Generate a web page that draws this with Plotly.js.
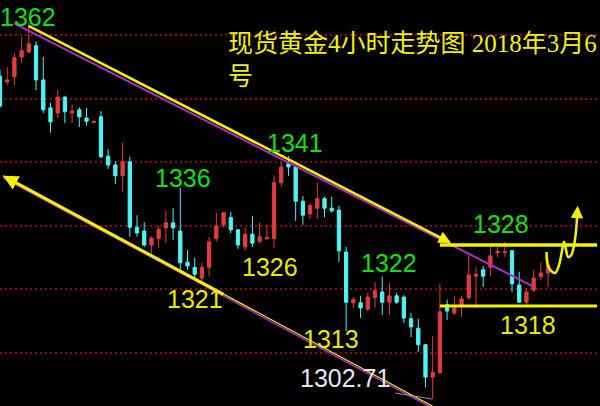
<!DOCTYPE html>
<html>
<head>
<meta charset="utf-8">
<script src="https://cdn.plot.ly/plotly-3.0.1.min.js"></script>
<style>html,body{margin:0;padding:0;background:#000;}#chart{width:600px;height:406px;}</style>
</head>
<body>
<div id="chart"></div>
<script>
// ---- candle data (4h bars, index 0..76) ----
const openP = [1353.6,1352.7,1353.5,1356.6,1357.4,1358.4,1353.0,1348.6,1347.8,1350.3,1347.8,1348.3,1347.0,1346.3,1347.2,1341.0,1339.6,1337.9,1340.1,1329.8,1329.2,1327.0,1328.0,1329.7,1330.5,1329.2,1324.3,1323.5,1321.8,1323.5,1328.0,1330.2,1331.3,1329.4,1326.7,1328.7,1327.6,1328.0,1328.0,1336.8,1339.8,1339.3,1333.9,1331.9,1332.8,1334.3,1332.8,1332.5,1325.9,1317.9,1317.9,1316.9,1318.7,1319.6,1318.0,1319.0,1318.8,1315.4,1313.9,1311.3,1306.2,1306.9,1317.6,1316.3,1317.4,1318.7,1322.1,1323.1,1323.5,1325.8,1325.8,1326.1,1320.7,1318.0,1319.9,1322.0,1322.6];
const highP = [1354.6,1355.0,1357.2,1359.8,1362.0,1359.1,1356.6,1349.4,1351.4,1350.5,1349.2,1348.7,1348.6,1346.6,1348.1,1342.1,1340.2,1343.1,1340.9,1331.7,1330.6,1328.4,1330.0,1332.4,1332.8,1336.0,1326.2,1325.0,1324.2,1328.3,1332.1,1332.2,1332.2,1329.5,1329.7,1331.6,1330.5,1330.2,1338.0,1340.1,1341.0,1339.5,1334.7,1333.6,1336.8,1334.6,1334.6,1333.2,1326.7,1318.8,1319.0,1319.5,1321.2,1322.0,1321.0,1319.5,1319.1,1316.3,1315.4,1311.4,1312.7,1320.9,1318.4,1319.0,1319.0,1325.4,1323.5,1323.7,1326.7,1326.7,1327.5,1326.2,1322.8,1320.2,1323.1,1324.2,1325.0];
const lowP = [1348.6,1352.2,1352.2,1355.7,1357.2,1351.4,1347.8,1344.7,1347.0,1346.2,1346.2,1345.6,1345.8,1346.2,1340.7,1339.0,1336.6,1335.4,1328.3,1328.3,1326.7,1325.4,1326.5,1327.3,1327.8,1322.8,1323.1,1321.8,1321.0,1322.0,1327.6,1329.8,1328.9,1326.4,1326.2,1326.7,1327.3,1327.9,1326.5,1336.1,1337.9,1330.8,1330.2,1331.1,1331.1,1331.4,1332.1,1324.3,1313.4,1317.1,1315.5,1316.6,1317.1,1316.0,1316.0,1317.7,1314.7,1312.5,1310.2,1304.6,1302.71,1306.7,1315.2,1316.0,1315.7,1318.4,1317.1,1320.4,1322.1,1325.1,1325.1,1319.6,1317.9,1317.6,1319.6,1321.5,1320.4];
const closeP = [1348.9,1353.0,1356.5,1357.6,1358.7,1353.0,1348.3,1346.4,1350.3,1348.0,1348.1,1347.2,1346.5,1346.5,1340.9,1339.6,1337.9,1340.1,1329.8,1328.9,1327.0,1328.1,1329.5,1330.5,1329.7,1324.2,1323.7,1322.4,1323.5,1327.5,1330.0,1332.1,1329.4,1327.0,1328.7,1327.3,1328.3,1328.2,1336.8,1339.3,1339.3,1333.9,1331.7,1333.2,1334.3,1332.8,1332.4,1326.1,1318.0,1318.4,1317.1,1318.8,1319.8,1318.0,1319.0,1318.0,1315.5,1314.1,1311.3,1306.2,1306.9,1316.5,1316.6,1317.1,1318.5,1322.3,1322.4,1322.1,1325.3,1326.0,1326.0,1320.9,1318.0,1319.6,1321.8,1322.6,1323.9];
const barIndex = openP.map((_, i) => i);

// ---- drawn analysis lines (bar index, price) ----
const upperTrendX = [3.74, 62.55];
const upperTrendY = [1361.65, 1327.32];
const purpleUpperX = [1.94, 73.9];
const purpleUpperY = [1361.9, 1320.5];
const lowerTrendX = [0.42, 60.5];
const lowerTrendY = [1337.9, 1301.3];
const lowerPurpleY = [1337.6, 1301.0];
const lowerThickX = [0.42, 31.2];
const lowerThickY = [1337.9, 1319.1];
const resistX = [61.0, 82.8];
const resistY = [1327.0, 1327.0];
const supportX = [61.0, 82.8];
const supportY = [1317.4, 1317.4];
const lowMarkX = [54.8, 59.9];
const lowMarkY = [1303.7, 1302.75];
const squiggleX = [75.80, 75.87, 76.28, 76.98, 77.53, 77.95, 78.22, 78.50, 78.78, 79.20, 79.61, 79.89, 80.03];
const squiggleY = [1325.9, 1324.3, 1323.1, 1322.6, 1323.9, 1326.2, 1327.5, 1326.2, 1325.1, 1325.4, 1327.0, 1329.4, 1331.7];
const squiggleTipX = 80.10, squiggleTipY = 1333.2;

// ---- price labels ----
const labelText  = ['1362','1341','1336','1326','1321','1322','1313','1302.71','1328','1318'];
const labelX     = [3.88, 40.9, 25.4, 37.5, 27.0, 54.0, 45.95, 47.85, 69.46, 73.2];
const labelY     = [1362.9, 1343.1, 1337.6, 1323.5, 1318.5, 1324.1, 1312.2, 1306.1, 1330.3, 1314.4];
const labelColor = ['#10e010','#10e010','#10e010','#e8e800','#e8e800','#10e010','#e8e800','#e4e4ee','#10e010','#e8e800'];
const titleText = '现货黄金4小时走势图 2018年3月6<br>号';
const gridLevels = [1310, 1320, 1330, 1340, 1350, 1360];

const YEL = '#f2f200';
const PUR = '#b02cc8';

const traces = [
  {type:'scatter', mode:'lines', x:purpleUpperX, y:purpleUpperY, line:{color:PUR,width:2}, hoverinfo:'skip'},
  {type:'scatter', mode:'lines', x:lowerTrendX, y:lowerPurpleY, line:{color:PUR,width:1.5}, hoverinfo:'skip'},
  {type:'scatter', mode:'lines', x:lowerTrendX, y:lowerTrendY, line:{color:YEL,width:1.2}, hoverinfo:'skip'},
  {type:'scatter', mode:'lines', x:lowMarkX, y:lowMarkY, line:{color:'#9a9aa6',width:1}, hoverinfo:'skip'},
  {
    type:'candlestick', x:barIndex, open:openP, high:highP, low:lowP, close:closeP,
    increasing:{line:{color:'#e23c3c',width:1}, fillcolor:'#e23c3c'},
    decreasing:{line:{color:'#4ef4f4',width:1}, fillcolor:'#4ef4f4'},
    whiskerwidth:0, hoverinfo:'skip'
  },
  {type:'scatter', mode:'lines', x:resistX, y:resistY, line:{color:YEL,width:3.5}, hoverinfo:'skip'},
  {type:'scatter', mode:'lines', x:supportX, y:supportY, line:{color:YEL,width:3}, hoverinfo:'skip'},
  {type:'scatter', mode:'lines', x:squiggleX, y:squiggleY, line:{color:YEL,width:2.5,shape:'spline'}, hoverinfo:'skip'}
];

const annotations = [
  {x:upperTrendX[1], y:upperTrendY[1], ax:upperTrendX[0], ay:upperTrendY[0], xref:'x', yref:'y', axref:'x', ayref:'y',
   text:'', showarrow:true, arrowhead:2, arrowsize:1, arrowwidth:2.5, arrowcolor:YEL, standoff:0, startstandoff:0},
  {x:lowerThickX[0], y:lowerThickY[0], ax:lowerThickX[1], ay:lowerThickY[1], xref:'x', yref:'y', axref:'x', ayref:'y',
   text:'', showarrow:true, arrowhead:2, arrowsize:1, arrowwidth:3, arrowcolor:YEL, standoff:0, startstandoff:0},
  {x:squiggleTipX, y:squiggleTipY, ax:squiggleX[squiggleX.length-1], ay:squiggleY[squiggleY.length-1], xref:'x', yref:'y', axref:'x', ayref:'y',
   text:'', showarrow:true, arrowhead:2, arrowsize:1, arrowwidth:2.5, arrowcolor:YEL, standoff:0, startstandoff:0},
  {x:226/600, y:1-28/406, xref:'paper', yref:'paper', xanchor:'left', yanchor:'top', align:'left', showarrow:false,
   text:titleText, font:{family:"'Liberation Serif','Noto Sans CJK SC',serif", size:25, color:YEL}}
];
labelText.forEach((t,i)=>{
  annotations.push({x:labelX[i], y:labelY[i], xref:'x', yref:'y', text:t, showarrow:false,
    font:{family:"'Liberation Sans',Arial,sans-serif", size:25, color:labelColor[i]}});
});

const layout = {
  width:600, height:406,
  margin:{l:0,r:0,t:0,b:0},
  paper_bgcolor:'#000', plot_bgcolor:'#000',
  showlegend:false,
  boxgap:0.35,
  xaxis:{range:[0,83.2], showgrid:false, zeroline:false, showticklabels:false, showline:false, ticks:'', rangeslider:{visible:false}, fixedrange:true},
  yaxis:{range:[1301.65,1365.59], tickvals:gridLevels, showgrid:true, gridcolor:'#8e0c0c', gridwidth:2, griddash:'2px,3px',
         zeroline:false, showticklabels:false, showline:false, ticks:'', fixedrange:true},
  annotations:annotations
};

Plotly.newPlot('chart', traces, layout, {displayModeBar:false, staticPlot:true});
</script>
</body>
</html>
